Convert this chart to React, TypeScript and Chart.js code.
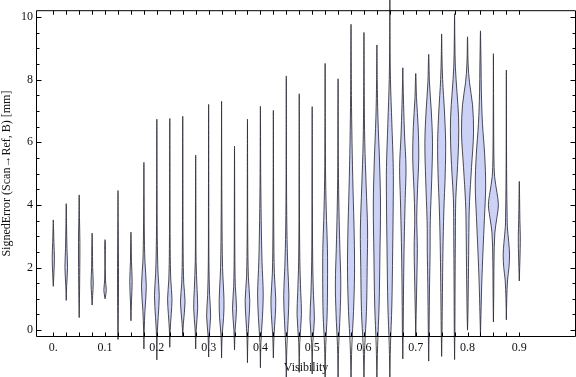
import { useEffect, useRef } from "react";
import { Chart, registerables } from "chart.js";

Chart.register(...registerables);

// ---- data ----
const VISIBILITY = [
  0, 0.025, 0.05, 0.075, 0.1, 0.125, 0.15, 0.175, 0.2, 0.225, 0.25, 0.275,
  0.3, 0.325, 0.35, 0.375, 0.4, 0.425, 0.45, 0.475, 0.5, 0.525, 0.55, 0.575,
  0.6, 0.625, 0.65, 0.675, 0.7, 0.725, 0.75, 0.775, 0.8, 0.825, 0.85, 0.875, 0.9,
];

// lower tail of each violin (mm)
const LOW = [
  1.4, 0.95, 0.4, 0.8, 1.0, -0.3, 0.3, -0.6, -0.95, -0.55, -0.2, -0.6,
  -0.86, -0.89, -0.63, -1.04, -1.2, -0.89, -1.6, -1.35, -1.4, -1.5, -1.6, -1.6,
  -1.6, -1.6, -1.6, -0.92, -0.22, -0.99, -0.84, -0.94, 0.0, -0.16, 0.26, 0.33, 1.57,
];

// upper tail of each violin (mm)
const HIGH = [
  3.52, 4.04, 4.32, 3.1, 2.89, 4.46, 3.13, 5.36, 6.74, 6.76, 6.83, 5.59,
  7.21, 7.31, 5.88, 6.74, 7.15, 7.02, 8.12, 7.55, 7.14, 8.52, 8.03, 9.77,
  9.51, 9.11, 10.6, 8.38, 8.2, 8.81, 9.46, 10.11, 9.37, 9.56, 8.83, 8.31, 4.75,
];

// density profile of each violin: [signed error, relative density]
const PROFILE: number[][][] = [
  [[1.8, 0.6], [2.3, 1.1], [2.8, 0.6], [3.2, 0.3]],
  [[1.4, 0.4], [2.0, 1.3], [2.6, 0.7], [3.4, 0.3]],
  [[1.0, 0.3], [2.0, 0.6], [2.8, 0.7], [3.6, 0.3]],
  [[1.1, 0.5], [1.5, 1.1], [2.0, 0.5], [2.7, 0.3]],
  [[1.15, 0.8], [1.3, 1.2], [1.6, 0.4], [2.4, 0.2], [2.7, 0.4]],
  [[0.5, 0.3], [1.5, 0.5], [2.5, 0.4], [3.5, 0.2]],
  [[0.9, 0.5], [1.55, 1.2], [2.2, 0.5], [2.8, 0.3]],
  [[0.0, 0.3], [0.6, 1.0], [1.4, 2.4], [2.2, 1.0], [3.2, 0.4], [4.3, 0.2]],
  [[-0.2, 0.3], [0.4, 1.3], [1.1, 2.4], [1.8, 1.2], [3.0, 0.4], [4.5, 0.2]],
  [[0.0, 0.4], [0.5, 1.4], [1.0, 2.2], [1.6, 1.0], [2.6, 0.4], [4.5, 0.2]],
  [[0.2, 0.6], [0.9, 2.3], [1.5, 1.0], [2.5, 0.4], [4.5, 0.2]],
  [[0.0, 0.5], [0.7, 2.0], [1.3, 1.4], [2.2, 0.4], [4.0, 0.2]],
  [[-0.2, 0.5], [0.45, 2.0], [1.1, 1.0], [2.2, 0.3], [4.5, 0.15]],
  [[-0.2, 0.5], [0.4, 2.0], [0.95, 2.4], [2.0, 1.0], [3.6, 0.4], [5.5, 0.15]],
  [[0.0, 0.6], [0.7, 2.0], [1.4, 0.8], [2.5, 0.3], [4.5, 0.15]],
  [[-0.3, 0.4], [0.4, 1.6], [0.95, 2.3], [1.7, 0.9], [3.0, 0.3], [5.0, 0.15]],
  [[-0.4, 0.5], [0.4, 2.0], [1.15, 2.8], [2.2, 1.6], [3.5, 0.8], [5.0, 0.3]],
  [[-0.2, 0.6], [0.5, 2.0], [1.0, 2.4], [1.8, 1.0], [3.2, 0.4], [5.2, 0.15]],
  [[-0.6, 0.5], [0.3, 1.8], [1.1, 2.6], [2.0, 1.5], [3.2, 0.6], [5.0, 0.2]],
  [[-0.4, 0.5], [0.5, 2.2], [1.2, 1.5], [2.2, 0.6], [4.0, 0.2]],
  [[-0.4, 0.6], [0.35, 2.2], [1.1, 1.3], [2.2, 0.5], [4.0, 0.2]],
  [[-0.5, 0.6], [0.5, 2.0], [1.5, 2.4], [2.6, 2.3], [3.5, 1.4], [4.8, 0.5], [6.5, 0.2]],
  [[-0.5, 0.6], [0.5, 2.0], [1.5, 2.7], [2.6, 1.8], [3.8, 0.9], [5.2, 0.3]],
  [[-0.5, 0.8], [0.6, 2.5], [1.8, 3.5], [3.0, 3.2], [4.5, 2.0], [6.0, 1.0], [7.5, 0.4]],
  [[-0.5, 0.8], [0.6, 2.5], [2.0, 3.2], [3.2, 3.6], [4.6, 2.2], [6.0, 0.8], [7.5, 0.3]],
  [[-0.5, 0.7], [0.8, 2.2], [2.4, 3.0], [4.0, 3.6], [5.4, 2.6], [6.8, 1.0], [8.0, 0.3]],
  [[-0.5, 0.6], [0.8, 2.0], [2.5, 2.8], [4.2, 3.4], [5.2, 3.4], [6.6, 2.0], [8.0, 0.6], [9.2, 0.2]],
  [[0.0, 0.4], [1.5, 0.8], [2.8, 1.4], [4.2, 2.4], [5.2, 3.2], [6.2, 1.8], [7.2, 0.8], [8.0, 0.2]],
  [[0.5, 0.4], [1.8, 1.2], [2.6, 1.6], [3.6, 1.0], [4.5, 1.8], [5.5, 3.0], [6.5, 2.4], [7.4, 0.8]],
  [[0.0, 0.4], [1.5, 0.9], [2.5, 1.4], [3.5, 1.6], [4.8, 3.0], [6.0, 3.8], [7.0, 2.6], [7.9, 0.8]],
  [[0.0, 0.4], [1.2, 0.8], [2.5, 1.3], [3.8, 2.2], [5.0, 3.6], [6.0, 4.0], [7.0, 2.8], [8.0, 1.0], [8.8, 0.3]],
  [[0.0, 0.3], [1.5, 0.5], [3.0, 0.8], [4.2, 1.2], [5.0, 2.6], [6.0, 4.0], [6.8, 4.0], [7.6, 2.4], [8.4, 0.8], [9.2, 0.3]],
  [[0.5, 0.4], [2.0, 1.0], [3.5, 1.5], [4.1, 2.0], [5.2, 4.0], [6.3, 6.0], [7.2, 5.0], [7.9, 2.0], [8.5, 0.6]],
  [[0.5, 0.5], [1.5, 1.3], [2.5, 2.5], [3.6, 4.0], [4.6, 5.2], [5.6, 4.2], [6.6, 2.0], [7.6, 0.9], [8.4, 0.6], [9.0, 0.3]],
  [[1.0, 0.3], [2.2, 0.6], [3.1, 1.4], [3.6, 3.5], [4.0, 5.0], [4.4, 3.5], [4.9, 1.2], [5.5, 0.5], [7.0, 0.2]],
  [[1.0, 0.4], [1.6, 1.2], [2.0, 2.6], [2.4, 3.2], [2.8, 2.4], [3.3, 1.0], [3.6, 0.8], [4.2, 0.5], [5.5, 0.2]],
  [[2.0, 0.4], [2.6, 0.9], [3.0, 1.0], [3.5, 0.6], [4.2, 0.3]],
];

const X_TICKS = [0, 0.1, 0.2, 0.3, 0.4, 0.5, 0.6, 0.7, 0.8, 0.9];
const X_TICK_LABELS = ["0.", "0.1", "0.2", "0.3", "0.4", "0.5", "0.6", "0.7", "0.8", "0.9"];
const Y_TICKS = [0, 2, 4, 6, 8, 10];
const Y_TICK_LABELS = ["0", "2", "4", "6", "8", "10"];

const X_TITLE = "Visibility";
const Y_TITLE = "SignedError (Scan\u2192Ref, B) [mm]";

// ---- styling / geometry ----
const X_MIN = -0.0334;
const X_MAX = 1.0095;
const Y_MIN = -0.22;
const Y_MAX = 10.22;
const DENSITY_TO_X = 1 / 517.8;
const FILL = "rgb(204, 210, 246)";
const EDGE = "rgba(45, 45, 55, 0.85)";
const FONT = "'Liberation Serif', 'Times New Roman', serif";

function violinPoints(i: number) {
  const c = VISIBILITY[i];
  const prof = PROFILE[i];
  const pts: { x: number; y: number }[] = [];
  pts.push({ x: c, y: LOW[i] });
  for (const [yy, d] of prof) pts.push({ x: c + d * DENSITY_TO_X, y: yy });
  pts.push({ x: c, y: HIGH[i] });
  for (let k = prof.length - 1; k >= 0; k--) {
    const [yy, d] = prof[k];
    pts.push({ x: c - d * DENSITY_TO_X, y: yy });
  }
  pts.push({ x: c, y: LOW[i] });
  return pts;
}

const framePlugin = {
  id: "frameTicks",
  afterDatasetsDraw(chart: any) {
    const { ctx, chartArea: a, scales } = chart;
    const xs = scales.x;
    const ys = scales.y;
    const L = a.left + 0.5;
    const R = a.right - 0.5;
    const T = a.top + 0.5;
    const B = a.bottom - 0.5;
    ctx.save();
    ctx.strokeStyle = "#000";
    ctx.lineWidth = 1;
    ctx.beginPath();
    ctx.rect(L, T, R - L, B - T);
    for (const v of VISIBILITY) {
      const px = Math.round(xs.getPixelForValue(v)) + 0.5;
      ctx.moveTo(px, B);
      ctx.lineTo(px, B - 4);
      ctx.moveTo(px, T);
      ctx.lineTo(px, T + 4);
    }
    for (let k = 0; k <= 20; k++) {
      const v = k * 0.5;
      const py = Math.round(ys.getPixelForValue(v)) + 0.5;
      const len = k % 4 === 0 ? 5 : 3;
      ctx.moveTo(L, py);
      ctx.lineTo(L + len, py);
      ctx.moveTo(R, py);
      ctx.lineTo(R - len, py);
    }
    ctx.stroke();
    ctx.restore();
  },
};

export default function App() {
  const ref = useRef<HTMLCanvasElement | null>(null);

  useEffect(() => {
    document.body.style.margin = "0";
    const canvas = ref.current;
    if (!canvas) return;
    Chart.defaults.font.family = FONT;
    Chart.defaults.color = "#111";

    const datasets = VISIBILITY.map((_, i) => ({
      data: violinPoints(i),
      fill: "shape",
      backgroundColor: FILL,
      borderColor: EDGE,
      borderWidth: 1,
      pointRadius: 0,
      tension: 0.35,
      clip: false,
    }));

    const chart = new Chart(canvas, {
      type: "line",
      data: { datasets } as any,
      options: {
        responsive: false,
        animation: false,
        events: [],
        layout: { padding: { top: 4, left: 0, right: 0, bottom: 0 } },
        plugins: {
          legend: { display: false },
          tooltip: { enabled: false },
        },
        scales: {
          x: {
            type: "linear",
            min: X_MIN,
            max: X_MAX,
            grid: { display: false, drawTicks: false },
            border: { display: false },
            afterBuildTicks: (s: any) => {
              s.ticks = X_TICKS.map((v) => ({ value: v }));
            },
            afterFit: (s: any) => {
              s.height = 40;
            },
            ticks: {
              autoSkip: false,
              maxRotation: 0,
              padding: 4,
              font: { size: 12 },
              callback: (_v: any, idx: number) => X_TICK_LABELS[idx],
            },
            title: {
              display: true,
              text: X_TITLE,
              font: { size: 12 },
              padding: { top: 0, bottom: 2 },
            },
          },
          y: {
            type: "linear",
            min: Y_MIN,
            max: Y_MAX,
            grid: { display: false, drawTicks: false },
            border: { display: false },
            afterBuildTicks: (s: any) => {
              s.ticks = Y_TICKS.map((v) => ({ value: v }));
            },
            afterFit: (s: any) => {
              s.width = 36;
            },
            ticks: {
              autoSkip: false,
              padding: 3,
              font: { size: 12 },
              callback: (_v: any, idx: number) => Y_TICK_LABELS[idx],
            },
            title: {
              display: true,
              text: Y_TITLE,
              font: { size: 12 },
              padding: 0,
            },
          },
        },
      } as any,
      plugins: [framePlugin],
    });

    return () => chart.destroy();
  }, []);

  return (
    <div style={{ position: "absolute", left: 0, top: 0, width: 576, height: 377 }}>
      <canvas ref={ref} width={576} height={377} style={{ width: 576, height: 377, display: "block" }} />
    </div>
  );
}
